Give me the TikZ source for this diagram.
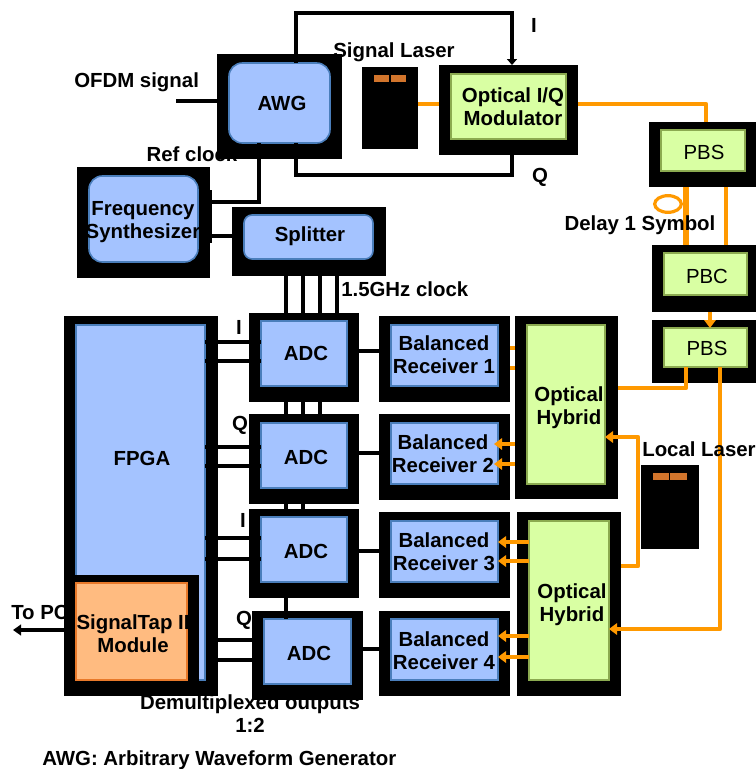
\documentclass[tikz,border=0pt]{standalone}
\usepackage{fontspec}
\setmainfont{Liberation Sans}
\usetikzlibrary{arrows.meta,shapes.geometric}
\definecolor{blueF}{HTML}{A4C3FF}
\definecolor{blueD}{HTML}{4A7EBB}
\definecolor{greenF}{HTML}{D9FFA3}
\definecolor{greenD}{HTML}{8BAA50}
\definecolor{tanF}{HTML}{FFBB80}
\definecolor{tanD}{HTML}{E8792A}
\definecolor{opt}{HTML}{FF9900}
\definecolor{barC}{HTML}{D2752C}
\tikzset{
  shell/.style={fill=black,draw=none,inner sep=0pt,outer sep=0pt},
  panel/.style={inner sep=0pt,outer sep=0pt,line width=1.2pt},
  bluep/.style={panel,fill=blueF,draw=blueD},
  greenp/.style={panel,fill=greenF,draw=greenD},
  tanp/.style={panel,fill=tanF,draw=tanD},
  roundp/.style={rounded corners=10pt},
  wire/.style={draw=black,line width=3pt},
  wireT/.style={draw=black,line width=3pt},
  fibre/.style={draw=opt,line width=3.2pt,line join=round},
  fibreT/.style={draw=opt,line width=2.6pt,line join=round},
  ahead/.style={-{Triangle[length=6pt,width=8.5pt]}},
  lab/.style={font=\fontsize{15.3}{17.25}\selectfont\bfseries,align=center,inner sep=0pt,text=black},
  labR/.style={font=\fontsize{15.3}{17.25}\selectfont,align=center,inner sep=0pt,text=black},
}
% name, x1,y1,x2,y2, style
\newcommand{\boxat}[6]{\node[#6,minimum width={(#4-#2)*0.75pt},minimum height={(#5-#3)*0.75pt}] (#1) at ({(#2+#4)/2},{(#3+#5)/2}) {};}
\begin{document}
\begin{tikzpicture}[x=0.75pt,y=-0.75pt]
\useasboundingbox (0,0) rectangle (756,769);
% stubs hidden behind the receiver 1 / hybrid 1 shells
\coordinate (stubA) at (505,348);
\coordinate (stubB) at (520,348);
\coordinate (stubC) at (505,368);
\coordinate (stubD) at (520,368);
\draw[fibre] (stubA) -- (stubB);
\draw[fibre] (stubC) -- (stubD);
% shells
\boxat{awgo}{217}{54}{342}{159}{shell}
\boxat{freqo}{77}{167}{210}{278}{shell}
\boxat{splito}{232}{207}{386}{276}{shell}
\boxat{slaser}{362}{67}{418}{149}{shell}
\boxat{modo}{439}{65}{578}{155}{shell}
\boxat{pbsao}{649}{122}{756}{187}{shell}
\boxat{pbco}{652}{245}{756}{312}{shell}
\boxat{pbsbo}{652}{320}{756}{383}{shell}
\boxat{hyao}{515}{316}{618}{499}{shell}
\boxat{hybo}{517}{512}{621}{696}{shell}
\boxat{reco}{379}{316}{510}{402}{shell}
\boxat{recbo}{379}{414}{510}{500}{shell}
\boxat{recco}{379}{512}{510}{598}{shell}
\boxat{recdo}{379}{611}{510}{696}{shell}
\boxat{llaser}{641}{465}{699}{549}{shell}
\boxat{fpgao}{64}{316}{218}{696}{shell}
\boxat{adcao}{249}{313}{359}{402}{shell}
\boxat{adcbo}{249}{414}{359}{504}{shell}
\boxat{adcco}{249}{509}{359}{598}{shell}
\boxat{adcdo}{252}{611}{363}{700}{shell}
% panels
\boxat{awgi}{229}{63}{330}{143}{bluep,roundp}
\boxat{freqi}{89}{176}{198}{262}{bluep,roundp}
\boxat{spliti}{244}{215}{373}{259}{bluep,rounded corners=6pt}
\boxat{modi}{451}{74}{566}{139}{greenp}
\boxat{pbsai}{661}{130}{745}{171}{greenp}
\boxat{pbci}{664}{253}{747}{295}{greenp}
\boxat{pbsbi}{664}{328}{747}{367}{greenp}
\boxat{hyai}{527}{325}{605}{484}{greenp}
\boxat{hybi}{529}{521}{609}{680}{greenp}
\boxat{reci}{391}{325}{498}{386}{bluep}
\boxat{recbi}{391}{423}{498}{484}{bluep}
\boxat{recci}{391}{521}{498}{582}{bluep}
\boxat{recdi}{391}{619}{498}{680}{bluep}
\boxat{fpgai}{76}{325}{205}{680}{bluep}
\boxat{stapo}{64}{575}{199}{696}{shell}
\boxat{stapi}{76}{583}{187}{680}{tanp}
\boxat{adcai}{261}{321}{347}{386}{bluep}
\boxat{adcbi}{261}{423}{347}{488}{bluep}
\boxat{adcci}{261}{517}{347}{582}{bluep}
\boxat{adcdi}{264}{619}{351}{684}{bluep}
% laser facets
\boxat{sbarl}{374}{75}{389}{82}{fill=barC,inner sep=0pt}
\boxat{sbarr}{391}{75}{406}{82}{fill=barC,inner sep=0pt}
\boxat{lbarl}{653}{473}{669}{480}{fill=barC,inner sep=0pt}
\boxat{lbarr}{670}{473}{687}{480}{fill=barC,inner sep=0pt}
\boxat{ftab}{210}{190}{212}{243}{shell}
% black connectors
\coordinate (topL) at (296,13);
\coordinate (topR) at (512,13);
\coordinate (botL) at (296,175);
\coordinate (botR) at (512,175);
\coordinate (ofdmIn) at (176,101);
\coordinate (pcOut) at (13,630);
\draw[wire,line join=miter,-{Triangle[length=4.5pt,width=7.5pt]}] (topL |- awgi.north) -- (topL) -- (topR) -- (topR |- modo.north);
\draw[wire] (botL |- awgi.south) -- (botL) -- (botR) -- (botR |- modo.south);
\draw[wire] (259,0 |- awgi.south) -- (259,202) -- (ftab.east |- 0,202);
\draw[wire] (ftab.east |- 0,236) -- (splito.west |- 0,236);
\draw[wire] (ofdmIn) -- (awgo.west |- ofdmIn);
\draw[wire,-{Triangle[length=6pt,width=8pt]}] (stapo.west |- pcOut) -- (pcOut);
\foreach \xx in {286,303,320,337} \draw[wireT] (\xx,0 |- splito.south) -- (\xx,0 |- adcao.north);
\foreach \xx in {286,303,320} \draw[wireT] (\xx,0 |- adcao.south) -- (\xx,0 |- adcbo.north);
\foreach \xx in {286,303} \draw[wireT] (\xx,0 |- adcbo.south) -- (\xx,0 |- adcco.north);
\draw[wireT] (286,0 |- adcco.south) -- (286,0 |- adcdi.north);
\foreach \yy/\aa in {342/adcai,361/adcai,447/adcbi,466/adcbi,538/adcci,559/adcci}
  \draw[wireT] (fpgai.east |- 0,\yy) -- (\aa.west |- 0,\yy);
\foreach \yy in {640,660} \draw[wireT] (fpgao.east |- 0,\yy) -- (adcdo.west |- 0,\yy);
\draw[wireT] (adcao.east |- 0,351) -- (reco.west |- 0,351);
\draw[wireT] (adcbo.east |- 0,453) -- (recbo.west |- 0,453);
\draw[wireT] (adcco.east |- 0,551) -- (recco.west |- 0,551);
\draw[wireT] (adcdo.east |- 0,649) -- (recdo.west |- 0,649);
% optical connectors
\draw[fibreT] (slaser.east |- 0,104) -- (modo.west |- 0,104);
\draw[fibre] (modo.east |- 0,104) -- (706,104) -- (706,0 |- pbsao.north);
\draw[draw=opt,line width=4pt] (686,0 |- pbsao.south) -- (686,0 |- pbco.north);
\draw[fibreT] (726,0 |- pbsao.south) -- (726,0 |- pbco.north);
\node[draw=opt,line width=2.4pt,ellipse,minimum width=20pt,minimum height=12.5pt,inner sep=0pt] (delay) at (668,204) {};
\draw[fibre,ahead] (710,0 |- pbco.south) -- (710,0 |- pbsbi.north);
\draw[fibre] (686,0 |- pbsbi.south) -- (686,388) -- (hyao.east |- 0,388);
\draw[fibre,ahead] (720,0 |- pbsbi.south) -- (720,629) -- (hybi.east |- 0,629);
\draw[fibre,ahead] (hybo.east |- 0,566) -- (638,566) -- (638,437) -- (hyai.east |- 0,437);
\foreach \yy/\rr in {444/recbi,464/recbi} \draw[fibre,ahead] (hyao.west |- 0,\yy) -- ([xshift=-3pt]\rr.east |- 0,\yy);
\foreach \yy/\rr in {542/recci,561/recci,636/recdi,657/recdi} \draw[fibre,ahead] (hybi.west |- 0,\yy) -- (\rr.east |- 0,\yy);
% labels
\node[lab,anchor=west] (tofdm) at (74,82) {OFDM signal};
\node[lab] (tawg) at (282,103) {AWG};
\node[lab] (tsl) at (394,52) {Signal Laser};
\node[lab] (ti) at (534,25) {I};
\node[lab] (tq) at (540,177) {Q};
\node[lab] (tref) at (192,154) {Ref clock};
\node[lab] (tfreq) at (143,222) {Frequency\\Synthesizer};
\node[lab] (tsplit) at (310,236) {Splitter};
\node[lab,anchor=west] (tclk) at (341,289) {1.5GHz clock};
\node[labR] (tpa) at (704,152) {PBS};
\node[labR] (tpc) at (707,276) {PBC};
\node[labR] (tpb) at (707,348) {PBS};
\node[lab] (tdel) at (640,225) {Delay 1 Symbol};
\node[lab] (tmod) at (513,107) {Optical I/Q\\Modulator};
\node[lab] (tfpga) at (142,458) {FPGA};
\node[lab] (tst) at (133,634) {SignalTap II\\Module};
\node[lab,anchor=west] (tpc2) at (11,612) {To PC};
\node[lab] (tada) at (306,353) {ADC};
\node[lab] (tadb) at (306,457) {ADC};
\node[lab] (tadc) at (306,551) {ADC};
\node[lab] (tadd) at (309,653) {ADC};
\node[lab] (tia) at (239,327) {I};
\node[lab] (tqa) at (240,425) {Q};
\node[lab] (tib) at (243,520) {I};
\node[lab] (tqb) at (244,620) {Q};
\node[lab] (tra) at (444,355) {Balanced\\Receiver 1};
\node[lab] (trb) at (443,454) {Balanced\\Receiver 2};
\node[lab] (trc) at (444,552) {Balanced\\Receiver 3};
\node[lab] (trd) at (444,651) {Balanced\\Receiver 4};
\node[lab] (tha) at (569,408) {Optical\\Hybrid};
\node[lab] (thb) at (572,605) {Optical\\Hybrid};
\node[lab] (tll) at (699,449) {Local Laser};
\node[lab] (tdm) at (250,714) {Demultiplexed outputs\\1:2};
\node[lab,anchor=west] (tleg) at (42,760) {AWG: Arbitrary Waveform Generator};
\end{tikzpicture}
\end{document}
